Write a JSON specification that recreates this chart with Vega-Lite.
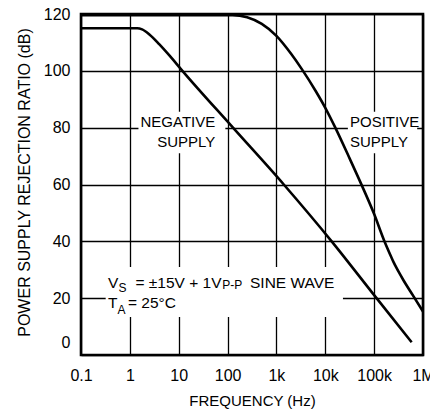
{
  "$schema": "https://vega.github.io/schema/vega-lite/v6.json",
  "width": 342,
  "height": 341,
  "autosize": "none",
  "padding": {"left": 81, "top": 14, "right": 7, "bottom": 54},
  "background": "white",
  "config": {
    "view": {"stroke": "black", "strokeWidth": 2.6},
    "font": "Liberation Sans",
    "axis": {
      "domain": false, "ticks": false, "tickSize": 0, "grid": true,
      "gridColor": "black", "gridWidth": 1.3, "gridOpacity": 1,
      "labelColor": "black", "labelFont": "Liberation Sans", "labelFontSize": 16,
      "titleFont": "Liberation Sans", "titleFontWeight": "normal", "titleColor": "black",
      "labelFlush": false, "labelOverlap": false
    }
  },
  "datasets": {
    "boxes": [
      {"f": 1.5, "f2": 90, "db": 71, "db2": 85.6},
      {"f": 29000, "f2": 760000, "db": 71, "db2": 85.6},
      {"f": 0.32, "f2": 23000, "db": 13.4, "db2": 31}
    ],
    "curves": [
      {"s": "neg", "f": 0.1, "db": 115},
      {"s": "neg", "f": 1.0, "db": 115},
      {"s": "neg", "f": 1.41, "db": 115},
      {"s": "neg", "f": 1.78, "db": 114.6},
      {"s": "neg", "f": 2.51, "db": 112.8},
      {"s": "neg", "f": 3.98, "db": 109.4},
      {"s": "neg", "f": 6.31, "db": 105.6},
      {"s": "neg", "f": 11.9, "db": 100},
      {"s": "neg", "f": 129, "db": 80},
      {"s": "neg", "f": 1413, "db": 60},
      {"s": "neg", "f": 13500, "db": 40},
      {"s": "neg", "f": 112000, "db": 20},
      {"s": "neg", "f": 586000, "db": 4.5},
      {"s": "pos", "f": 0.1, "db": 119.6},
      {"s": "pos", "f": 126, "db": 119.6},
      {"s": "pos", "f": 251, "db": 118.85},
      {"s": "pos", "f": 501, "db": 116.5},
      {"s": "pos", "f": 1000, "db": 112.3},
      {"s": "pos", "f": 1995, "db": 106},
      {"s": "pos", "f": 3311, "db": 100.6},
      {"s": "pos", "f": 6310, "db": 93},
      {"s": "pos", "f": 10000, "db": 87},
      {"s": "pos", "f": 15850, "db": 80.2},
      {"s": "pos", "f": 31620, "db": 69.1},
      {"s": "pos", "f": 56230, "db": 59.6},
      {"s": "pos", "f": 100000, "db": 49.6},
      {"s": "pos", "f": 158500, "db": 40.5},
      {"s": "pos", "f": 223900, "db": 34.5},
      {"s": "pos", "f": 251200, "db": 32.6},
      {"s": "pos", "f": 281800, "db": 30.9},
      {"s": "pos", "f": 316200, "db": 29.3},
      {"s": "pos", "f": 398100, "db": 26.3},
      {"s": "pos", "f": 631000, "db": 20.8},
      {"s": "pos", "f": 1000000, "db": 15.3}
    ],
    "labelsR": [
      {"f": 56, "db": 80.2, "t": "NEGATIVE"},
      {"f": 56, "db": 73.2, "t": "SUPPLY"}
    ],
    "labelsL": [
      {"f": 32000, "db": 80.2, "t": "POSITIVE"},
      {"f": 32000, "db": 73.2, "t": "SUPPLY"}
    ],
    "annotBig": [
      {"f": 0.357, "db": 23.6, "t": "V"},
      {"f": 1.3, "db": 23.6, "t": "= ±15V + 1V"},
      {"f": 288, "db": 23.6, "t": "SINE WAVE"},
      {"f": 0.357, "db": 16.4, "t": "T"},
      {"f": 0.916, "db": 16.4, "t": "= 25°C"}
    ],
    "annotSub": [
      {"f": 0.586, "db": 22.3, "t": "S"},
      {"f": 0.558, "db": 14.5, "t": "A"},
      {"f": 78, "db": 23.1, "t": "P-P"}
    ]
  },
  "encoding": {
    "x": {
      "field": "f", "type": "quantitative",
      "scale": {"type": "log", "domain": [0.1, 1000000], "nice": false},
      "axis": {
        "values": [0.1, 1, 10, 100, 1000, 10000, 100000, 1000000],
        "labelExpr": "datum.value >= 1000000 ? '1M' : datum.value >= 1000 ? format(datum.value / 1000, 'd') + 'k' : datum.value < 1 ? '0.1' : format(datum.value, 'd')",
        "labelBaseline": "alphabetic", "labelPadding": 25,
        "title": "FREQUENCY (Hz)", "titleFontSize": 15,
        "titleX": 171, "titleY": 50, "titleBaseline": "alphabetic", "titleAlign": "center"
      }
    },
    "y": {
      "field": "db", "type": "quantitative",
      "scale": {"domain": [0, 120], "nice": false, "zero": false},
      "axis": {
        "values": [0, 20, 40, 60, 80, 100, 120],
        "labelPadding": 11,
        "labelOffset": {"condition": {"test": "datum.value == 0", "value": -13}, "value": 0},
        "title": "POWER SUPPLY REJECTION RATIO (dB)", "titleFontSize": 16,
        "titleX": -57, "titleY": 168, "titleBaseline": "middle", "titleAlign": "center", "titleAngle": 270
      }
    }
  },
  "layer": [
    {
      "data": {"name": "boxes"},
      "mark": {"type": "rect", "color": "white"},
      "encoding": {
        "x2": {"field": "f2"},
        "y2": {"field": "db2"}
      }
    },
    {
      "data": {"name": "curves"},
      "mark": {"type": "line", "color": "black", "strokeWidth": 2.6, "interpolate": "monotone"},
      "encoding": {
        "detail": {"field": "s"}
      }
    },
    {
      "data": {"name": "labelsR"},
      "mark": {"type": "text", "align": "right", "baseline": "alphabetic", "fontSize": 15, "color": "black"},
      "encoding": {"text": {"field": "t"}}
    },
    {
      "data": {"name": "labelsL"},
      "mark": {"type": "text", "align": "left", "baseline": "alphabetic", "fontSize": 15, "color": "black"},
      "encoding": {"text": {"field": "t"}}
    },
    {
      "data": {"name": "annotBig"},
      "mark": {"type": "text", "align": "left", "baseline": "alphabetic", "fontSize": 15.5, "color": "black"},
      "encoding": {"text": {"field": "t"}}
    },
    {
      "data": {"name": "annotSub"},
      "mark": {"type": "text", "align": "left", "baseline": "alphabetic", "fontSize": 12, "color": "black"},
      "encoding": {"text": {"field": "t"}}
    }
  ]
}
